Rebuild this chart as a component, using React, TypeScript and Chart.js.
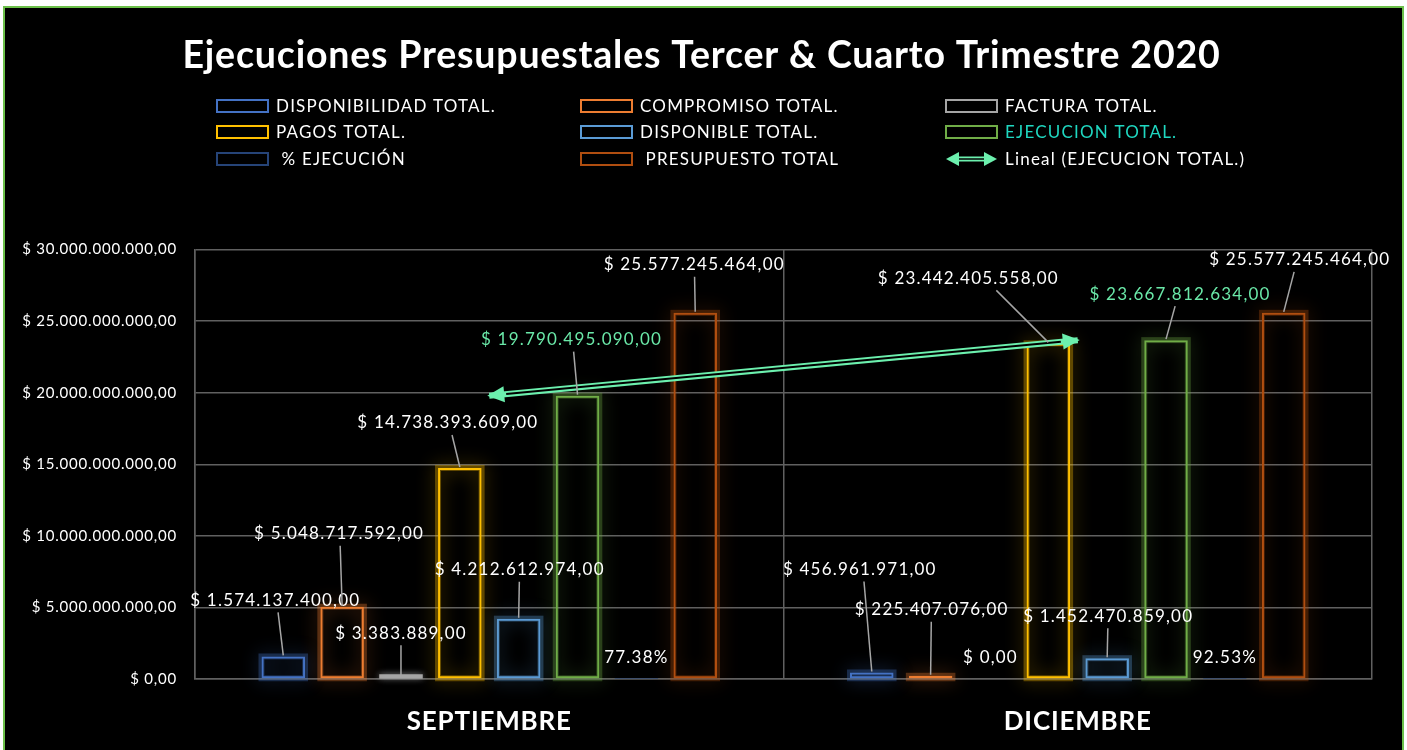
import React, { useEffect, useRef } from "react";
import { Chart, registerables } from "chart.js";

Chart.register(...registerables);

// ---------- DATA ----------
const categories = ["SEPTIEMBRE", "DICIEMBRE"];
const seriesNames = [
  "DISPONIBILIDAD TOTAL.",
  "COMPROMISO TOTAL.",
  "FACTURA TOTAL.",
  "PAGOS TOTAL.",
  "DISPONIBLE TOTAL.",
  "EJECUCION TOTAL.",
  " % EJECUCIÓN",
  " PRESUPUESTO TOTAL",
];
const trendName = "Lineal (EJECUCION TOTAL.)";
const disponibilidadTotal = [1574137400, 456961971];
const compromisoTotal = [5048717592, 225407076];
const facturaTotal = [3383889, 0];
const pagosTotal = [14738393609, 23442405558];
const disponibleTotal = [4212612974, 1452470859];
const ejecucionTotal = [19790495090, 23667812634];
const porcentajeEjecucion = [0.7738, 0.9253];
const presupuestoTotal = [25577245464, 25577245464];
const tendenciaEjecucion = [19790495090, 23667812634];
const yMin = 0;
const yMax = 30000000000;
const yStep = 5000000000;
const titleText = "Ejecuciones Presupuestales Tercer & Cuarto Trimestre 2020";

// ---------- STYLE / LAYOUT ----------
const FONT = "Lato";
const seriesColors = ["#4472C4", "#ED7D31", "#A5A5A5", "#FFC000", "#5B9BD5", "#70AD47", "#264478", "#B04E10"];
const MINT = "#6CF0AE";
const LABEL_MINT = "#6AE8A8";
const LEGEND_TEAL = "#1FD7C0";
const GRID = "#606060";
const PCT_INDEX = 6;
const EJEC_INDEX = 5;
// label offsets [dx, dy] from bar top centre, per series, per category
const labelOffsets = [
  [[-8, -56], [-12, -103]],
  [[-3, -73], [1, -66]],
  [[0, -45], [1, -21]],
  [[-12, -45], [-80, -65]],
  [[1, -49], [1, -42]],
  [[-6, -56], [14, -46]],
  [[0, -21], [0, -21]],
  [[-1, -48], [16, -53]],
];
const legendCols = [217, 581, 946];
const legendRows = [106, 132, 159];

function rgba(hex: string, a: number) {
  const n = parseInt(hex.slice(1), 16);
  return `rgba(${(n >> 16) & 255},${(n >> 8) & 255},${n & 255},${a})`;
}
function fmtMoney(v: number) {
  const [i, d] = v.toFixed(2).split(".");
  return "$ " + i.replace(/\B(?=(\d{3})+(?!\d))/g, ".") + "," + d;
}
function fmtPct(v: number) {
  return (v * 100).toFixed(2) + "%";
}

const spacingPlugin = {
  id: "spacing",
  beforeDraw(chart: any) {
    (chart.ctx as any).letterSpacing = "0.8px";
  },
};

const glowPlugin = {
  id: "glow",
  beforeDatasetDraw(chart: any, args: any) {
    const meta = args.meta;
    if (meta.type !== "bar") return;
    const ds = chart.data.datasets[args.index];
    const color = ds.borderColor as string;
    const ctx = chart.ctx;
    meta.data.forEach((el: any, j: number) => {
      const p = el.getProps(["x", "y", "base", "width"], true);
      const h = Math.abs(p.base - p.y);
      const left = p.x - p.width / 2;
      ctx.save();
      ctx.shadowColor = rgba(color, 0.9);
      ctx.shadowBlur = 18;
      if (h >= 2) {
        ctx.strokeStyle = rgba(color, 0.33);
        ctx.lineWidth = 6;
        ctx.strokeRect(left, Math.min(p.y, p.base), p.width, h);
      } else if (args.index !== PCT_INDEX && ds.data[j] > 0) {
        ctx.shadowBlur = 6;
        ctx.fillStyle = color;
        ctx.fillRect(left, p.base - 4, p.width, 4);
      }
      ctx.restore();
    });
  },
};

const trendPlugin = {
  id: "trendArrows",
  afterDatasetsDraw(chart: any) {
    const idx = chart.data.datasets.length - 1;
    const meta = chart.getDatasetMeta(idx);
    if (!meta || meta.data.length < 2) return;
    const a = meta.data[0];
    const b = meta.data[meta.data.length - 1];
    const dx = b.x - a.x;
    const dy = b.y - a.y;
    const len = Math.hypot(dx, dy);
    const ux = dx / len;
    const uy = dy / len;
    const nx = -uy;
    const ny = ux;
    const ctx = chart.ctx;
    const L = 17;
    const W = 8;
    ctx.save();
    ctx.strokeStyle = "#000";
    ctx.lineWidth = 2;
    ctx.beginPath();
    ctx.moveTo(a.x + ux * L, a.y + uy * L);
    ctx.lineTo(b.x - ux * L, b.y - uy * L);
    ctx.stroke();
    ctx.fillStyle = MINT;
    const head = (tx: number, ty: number, sx: number, sy: number) => {
      ctx.beginPath();
      ctx.moveTo(tx, ty);
      ctx.lineTo(tx + sx * L + nx * W, ty + sy * L + ny * W);
      ctx.lineTo(tx + sx * L - nx * W, ty + sy * L - ny * W);
      ctx.closePath();
      ctx.fill();
    };
    head(a.x - ux * 2, a.y - uy * 2, ux, uy);
    head(b.x + ux * 2, b.y + uy * 2, -ux, -uy);
    ctx.restore();
  },
};

const labelPlugin = {
  id: "dataLabels",
  afterDraw(chart: any) {
    const ctx = chart.ctx;
    ctx.save();
    ctx.font = `17px ${FONT}`;
    (ctx as any).letterSpacing = "1.2px";
    ctx.textAlign = "center";
    ctx.textBaseline = "middle";
    for (let i = 0; i < labelOffsets.length; i++) {
      const meta = chart.getDatasetMeta(i);
      const ds = chart.data.datasets[i];
      meta.data.forEach((el: any, j: number) => {
        const top = Math.min(el.y, el.base);
        const bx = el.x;
        const [ox, oy] = labelOffsets[i][j];
        const lx = bx + ox;
        const ly = top + oy;
        const v = ds.data[j] as number;
        const text = i === PCT_INDEX ? fmtPct(v) : fmtMoney(v);
        if (oy < -30) {
          ctx.strokeStyle = "#a6a6a6";
          ctx.lineWidth = 1.5;
          ctx.beginPath();
          ctx.moveTo(lx + (bx - lx) * 0.35, ly + 12);
          ctx.lineTo(bx, top - 1);
          ctx.stroke();
        }
        ctx.fillStyle = i === EJEC_INDEX ? LABEL_MINT : "#ffffff";
        ctx.fillText(text, lx, ly);
      });
    }
    ctx.restore();
  },
};

const legendPlugin = {
  id: "gridLegend",
  afterDraw(chart: any) {
    const ctx = chart.ctx;
    ctx.save();
    ctx.font = `17px ${FONT}`;
    (ctx as any).letterSpacing = "1.2px";
    ctx.textBaseline = "middle";
    ctx.textAlign = "left";
    chart.data.datasets.forEach((ds: any, k: number) => {
      const x = legendCols[k % 3];
      const y = legendRows[Math.floor(k / 3)];
      if (ds.type === "line") {
        ctx.strokeStyle = MINT;
        ctx.lineWidth = 5;
        ctx.beginPath();
        ctx.moveTo(x + 12, y);
        ctx.lineTo(x + 39, y);
        ctx.stroke();
        ctx.strokeStyle = "#000";
        ctx.lineWidth = 1.5;
        ctx.beginPath();
        ctx.moveTo(x + 12, y);
        ctx.lineTo(x + 39, y);
        ctx.stroke();
        ctx.fillStyle = MINT;
        ctx.beginPath();
        ctx.moveTo(x, y);
        ctx.lineTo(x + 13, y - 7);
        ctx.lineTo(x + 13, y + 7);
        ctx.closePath();
        ctx.fill();
        ctx.beginPath();
        ctx.moveTo(x + 51, y);
        ctx.lineTo(x + 38, y - 7);
        ctx.lineTo(x + 38, y + 7);
        ctx.closePath();
        ctx.fill();
      } else {
        ctx.strokeStyle = ds.borderColor;
        ctx.lineWidth = 2;
        ctx.strokeRect(x, y - 6, 51, 12);
      }
      ctx.fillStyle = k === EJEC_INDEX ? LEGEND_TEAL : "#ffffff";
      ctx.fillText(ds.label, x + 59, y + 1);
    });
    ctx.restore();
  },
};

export default function App() {
  const ref = useRef<HTMLCanvasElement>(null);
  useEffect(() => {
    const canvas = ref.current;
    if (!canvas) return;
    const barSeries = [
      disponibilidadTotal,
      compromisoTotal,
      facturaTotal,
      pagosTotal,
      disponibleTotal,
      ejecucionTotal,
      porcentajeEjecucion,
      presupuestoTotal,
    ];
    const datasets: any[] = barSeries.map((d, i) => ({
      type: "bar",
      label: seriesNames[i],
      data: d,
      backgroundColor: "rgba(0,0,0,0)",
      borderColor: seriesColors[i],
      borderWidth: 2,
      borderSkipped: false,
      categoryPercentage: 0.8,
      barPercentage: 0.74,
      order: 1,
    }));
    datasets.push({
      type: "line",
      label: trendName,
      data: tendenciaEjecucion,
      borderColor: MINT,
      backgroundColor: MINT,
      borderWidth: 6,
      pointRadius: 0,
      fill: false,
      order: 0,
    });
    const chart = new Chart(canvas, {
      type: "bar",
      data: { labels: categories, datasets },
      options: {
        responsive: false,
        animation: false,
        devicePixelRatio: 1,
        layout: { padding: { left: 16, right: 20, top: 0, bottom: 15 } },
        plugins: {
          legend: { display: false },
          tooltip: { enabled: false },
          title: {
            display: true,
            text: titleText,
            color: "#ffffff",
            font: { family: FONT, size: 37.5, weight: "bold" },
            padding: { top: 33, bottom: 171.5 },
          },
        },
        scales: {
          x: {
            grid: { offset: true, color: GRID, lineWidth: 1.5, drawTicks: false },
            border: { color: GRID, width: 1.5 },
            ticks: { color: "#ffffff", font: { family: FONT, size: 26, weight: "bold" }, padding: 27 },
            afterFit: (s: any) => {
              s.height = 56;
            },
          },
          y: {
            min: yMin,
            max: yMax,
            grid: { color: GRID, lineWidth: 1.5, drawTicks: false },
            border: { color: GRID, width: 1.5 },
            ticks: {
              stepSize: yStep,
              color: "#ffffff",
              padding: 18,
              font: { family: FONT, size: 15 },
              callback: (v: any) => fmtMoney(Number(v)),
            },
            afterFit: (s: any) => {
              s.width = 179;
            },
          },
          yRight: {
            position: "right",
            display: true,
            min: 0,
            max: 1,
            grid: { display: false, drawTicks: false },
            border: { display: false },
            ticks: { display: false },
            afterFit: (s: any) => {
              s.width = 15;
            },
          },
        },
      } as any,
      plugins: [spacingPlugin, glowPlugin, trendPlugin, labelPlugin, legendPlugin],
    });
    return () => chart.destroy();
  }, []);

  return (
    <div style={{ position: "fixed", left: 0, top: 0, width: 1407, height: 750, overflow: "hidden", background: "#ffffff" }}>
      <div
        style={{
          position: "absolute",
          left: 3,
          top: 6,
          width: 1401,
          height: 760,
          background: "#000000",
          border: "2px solid #6CC04A",
          boxSizing: "border-box",
        }}
      />
      <canvas ref={ref} width={1407} height={750} style={{ position: "absolute", left: 0, top: 0, width: 1407, height: 750 }} />
    </div>
  );
}
